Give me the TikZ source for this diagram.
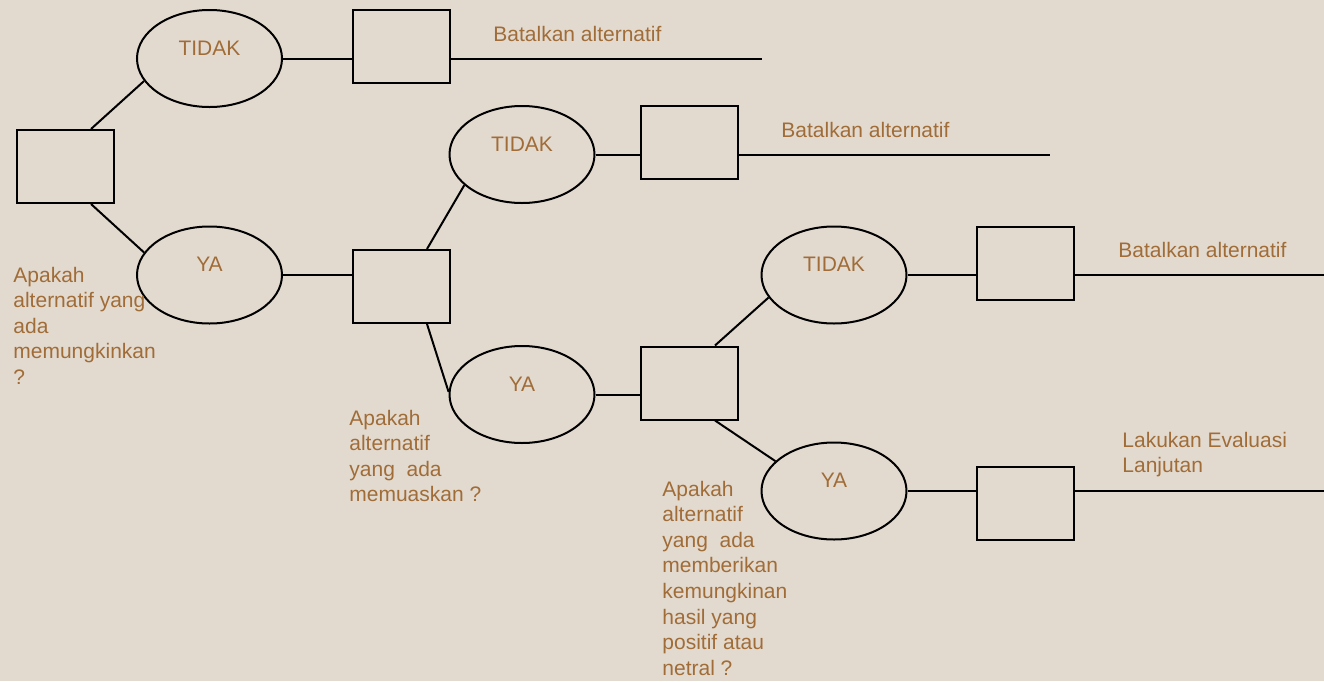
\documentclass[tikz,border=0pt]{standalone}
\usepackage{fontspec}
\setmainfont{Liberation Sans}
\usetikzlibrary{shapes.geometric}
\definecolor{latar}{RGB}{227,218,207}
\definecolor{teks}{RGB}{160,108,56}
\tikzset{
  kotak/.style={draw,line width=1pt,minimum width=48.5pt,minimum height=36.5pt,inner sep=0pt},
  pilih/.style={draw,ellipse,line width=1pt,minimum width=72.5pt,minimum height=48.5pt,inner sep=0pt,
    text=teks,font=\fontsize{10.5pt}{12.8pt}\selectfont,text height=7.5pt,text depth=11pt},
  ket/.style={text=teks,font=\fontsize{10.5pt}{12.8pt}\selectfont,align=left,inner sep=0pt,anchor=base west},
  garis/.style={line width=1pt}
}
\begin{document}
\begin{tikzpicture}[x=0.5pt,y=-0.5pt]
	% Latar
	\fill[latar] (0,0) rectangle (1324,681);
	\useasboundingbox (0,0) rectangle (1324,681);

	% Kotak keputusan
	\node[kotak] (b0) at (65.5,166.5) {};
	\node[kotak] (b1) at (401.5,46) {};
	\node[kotak] (b2) at (401.5,286.5) {};
	\node[kotak] (b3) at (689.5,142.5) {};
	\node[kotak] (b4) at (689.5,383) {};
	\node[kotak] (b5) at (1025.5,263) {};
	\node[kotak] (b6) at (1025.5,503) {};

	% Pilihan TIDAK / YA
	\node[pilih] (t1) at (209.5,58.5) {TIDAK};
	\node[pilih] (y1) at (209.5,275) {YA};
	\node[pilih] (t2) at (522,154.5) {TIDAK};
	\node[pilih] (y2) at (522,394.5) {YA};
	\node[pilih] (t3) at (834,275) {TIDAK};
	\node[pilih] (y3) at (834,491) {YA};

	% Ujung garis
	\coordinate (u1) at (762,58.5);
	\coordinate (u2) at (1050,154.5);
	\coordinate (u3) at (1324,275);
	\coordinate (u4) at (1324,491);

	% Cabang
	\draw[garis] ([xshift=-12pt]b0.north east) -- (t1.199);
	\draw[garis] ([xshift=-12pt]b0.south east) -- (y1.161);
	\draw[garis] (t1.east) -- (t1.east -| b1.west);
	\draw[garis] (b1.east |- t1.east) -- (u1);
	\draw[garis] (y1.east) -- (y1.east -| b2.west);

	\draw[garis] ([xshift=-12pt]b2.north east) -- (t2.208);
	\draw[garis] ([xshift=-12pt]b2.south east) -- (y2.178);
	\draw[garis] (t2.east) -- (t2.east -| b3.west);
	\draw[garis] (b3.east |- t2.east) -- (u2);
	\draw[garis] (y2.east) -- (y2.east -| b4.west);

	\draw[garis] ([xshift=-12pt]b4.north east) -- (t3.199);
	\draw[garis] ([xshift=-12pt]b4.south east) -- (y3.153);
	\draw[garis] (t3.east) -- (t3.east -| b5.west);
	\draw[garis] (b5.east |- t3.east) -- (u3);
	\draw[garis] (y3.east) -- (y3.east -| b6.west);
	\draw[garis] (b6.east |- y3.east) -- (u4);

	% Keterangan (base = baris terakhir)
	\node[ket] (k1) at (493,41) {Batalkan alternatif};
	\node[ket] (k2) at (781,137) {Batalkan alternatif};
	\node[ket] (k3) at (1118,257) {Batalkan alternatif};
	\node[ket] (k4) at (1122,472.6) {Lakukan Evaluasi\\Lanjutan};

	% Pertanyaan
	\node[ket] (q1) at (13,384.4) {Apakah\\alternatif yang\\ada\\memungkinkan\\?};
	\node[ket] (q2) at (349,501.8) {Apakah\\alternatif\\yang\ \ ada\\memuaskan ?};
	\node[ket] (q3) at (662,675.2) {Apakah\\alternatif\\yang\ \ ada\\memberikan\\kemungkinan\\hasil yang\\positif atau\\netral ?};
\end{tikzpicture}
\end{document}
